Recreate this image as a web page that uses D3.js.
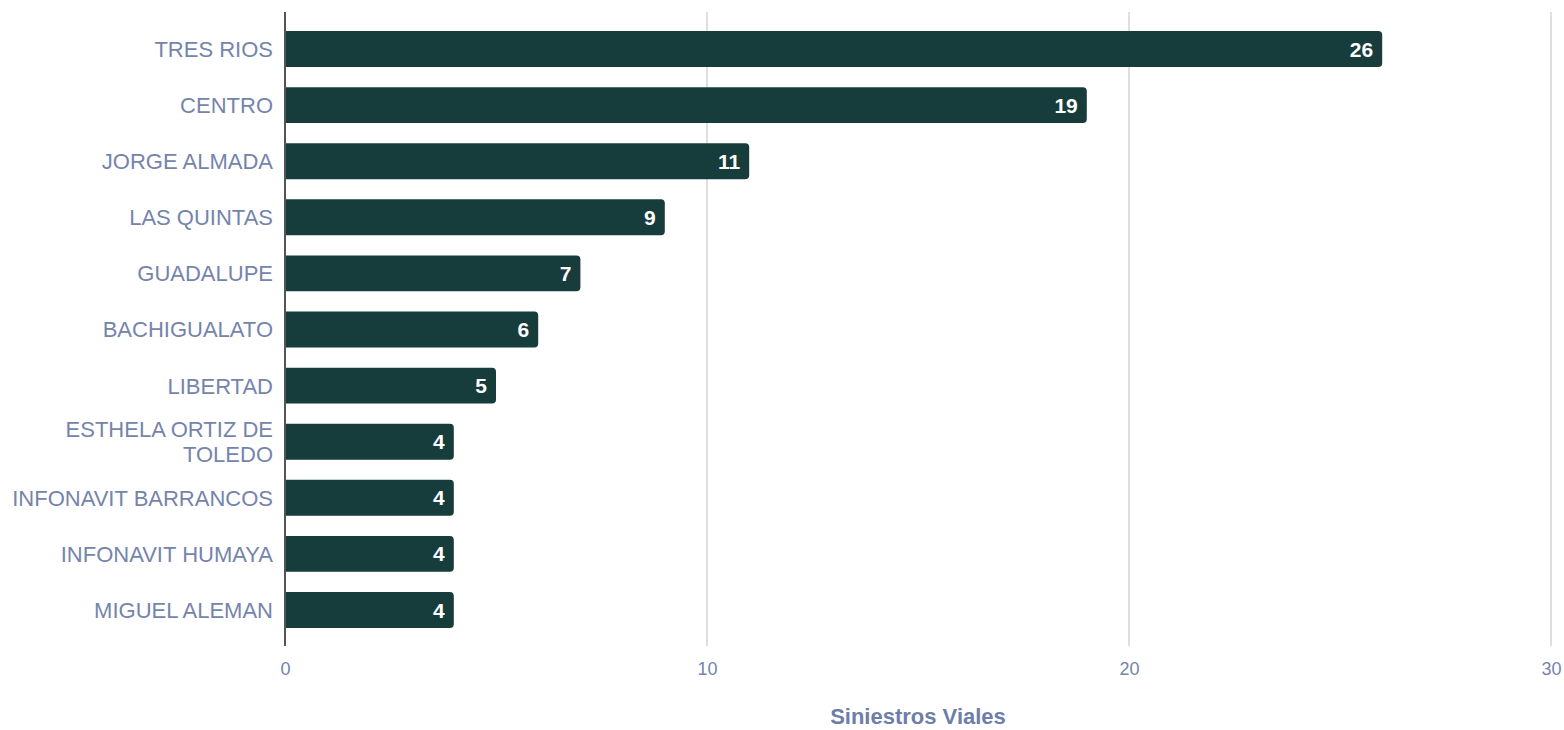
<!DOCTYPE html>
<html>
<head>
<meta charset="utf-8">
<script src="https://cdn.jsdelivr.net/npm/d3@7"></script>
<style>
  html, body { margin: 0; padding: 0; background: #ffffff; }
  svg { display: block; font-family: "Liberation Sans", Arial, sans-serif; }
</style>
</head>
<body>
<svg id="chart" width="1564" height="730"></svg>
<script>
const categories = ["TRES RIOS", "CENTRO", "JORGE ALMADA", "LAS QUINTAS", "GUADALUPE", "BACHIGUALATO", "LIBERTAD", "ESTHELA ORTIZ DE TOLEDO", "INFONAVIT BARRANCOS", "INFONAVIT HUMAYA", "MIGUEL ALEMAN"];
const values = [26, 19, 11, 9, 7, 6, 5, 4, 4, 4, 4];
const xTickValues = [0, 10, 20, 30];
const axisTitle = "Siniestros Viales";

const data = categories.map((c, i) => ({ cat: c, val: values[i] }));

const svg = d3.select("#chart");
const plot = { left: 285, right: 1551, top: 12, bottom: 646 };

const x = d3.scaleLinear().domain([0, 30]).range([plot.left, plot.right]);
const y = d3.scaleBand().domain(categories).range([21, 638]).paddingInner(0.36).paddingOuter(0.18);

const labelColor = "#7584ab";
const barColor = "#173c3c";

// gridlines
svg.append("g").selectAll("line.grid")
  .data(xTickValues.filter(d => d !== 0))
  .join("line")
  .attr("x1", d => x(d)).attr("x2", d => x(d))
  .attr("y1", plot.top).attr("y2", plot.bottom)
  .attr("stroke", "#d4d4d4").attr("stroke-width", 1.5);

// x axis tick labels
const xAxis = d3.axisBottom(x).tickValues(xTickValues).tickSize(0).tickPadding(16).tickFormat(d3.format("d"));
const gx = svg.append("g").attr("transform", `translate(0,${plot.bottom})`).call(xAxis);
gx.select(".domain").remove();
gx.selectAll("text").attr("fill", labelColor).attr("font-size", 18).attr("font-family", "Liberation Sans, Arial, sans-serif");

// bars with rounded right corners
const r = 4;
function barPath(d) {
  const x0 = x(0), x1 = x(d.val), y0 = y(d.cat), h = y.bandwidth();
  return `M${x0},${y0} H${x1 - r} Q${x1},${y0} ${x1},${y0 + r} V${y0 + h - r} Q${x1},${y0 + h} ${x1 - r},${y0 + h} H${x0} Z`;
}
svg.append("g").selectAll("path.bar")
  .data(data)
  .join("path")
  .attr("d", barPath)
  .attr("fill", barColor);

// value labels
svg.append("g").selectAll("text.val")
  .data(data)
  .join("text")
  .attr("x", d => x(d.val) - 9)
  .attr("y", d => y(d.cat) + y.bandwidth() / 2)
  .attr("dy", "0.36em")
  .attr("text-anchor", "end")
  .attr("fill", "#ffffff")
  .attr("font-weight", "bold")
  .attr("font-size", 21)
  .text(d => d.val);

// y axis
const yAxis = d3.axisLeft(y).tickSize(0).tickPadding(12);
const gy = svg.append("g").attr("transform", `translate(${plot.left},0)`).call(yAxis);
gy.select(".domain").remove();
gy.selectAll("text")
  .attr("fill", labelColor)
  .attr("font-size", 22)
  .attr("font-family", "Liberation Sans, Arial, sans-serif")
  .each(function () { wrap(d3.select(this), 268); });

function wrap(text, width) {
  const words = text.text().split(/\s+/);
  const xPos = text.attr("x");
  text.text(null);
  let lines = [];
  let line = [];
  let tspan = text.append("tspan");
  for (const w of words) {
    line.push(w);
    tspan.text(line.join(" "));
    if (tspan.node().getComputedTextLength() > width && line.length > 1) {
      line.pop();
      lines.push(line.join(" "));
      line = [w];
      tspan.text(w);
    }
  }
  lines.push(line.join(" "));
  text.text(null);
  const lh = 25;
  const n = lines.length;
  lines.forEach((l, i) => {
    text.append("tspan")
      .attr("x", xPos)
      .attr("dy", i === 0 ? `${0.36 * 22 - (n - 1) * lh / 2}px` : `${lh}px`)
      .text(l);
  });
  text.attr("dy", null);
}

// zero axis line
svg.append("line")
  .attr("x1", x(0)).attr("x2", x(0))
  .attr("y1", plot.top).attr("y2", plot.bottom)
  .attr("stroke", "#555555").attr("stroke-width", 2);

// axis title
svg.append("text")
  .attr("x", (plot.left + plot.right) / 2)
  .attr("y", 724)
  .attr("text-anchor", "middle")
  .attr("fill", "#6d7ea8")
  .attr("font-weight", "bold")
  .attr("font-size", 22)
  .text(axisTitle);
</script>
</body>
</html>
